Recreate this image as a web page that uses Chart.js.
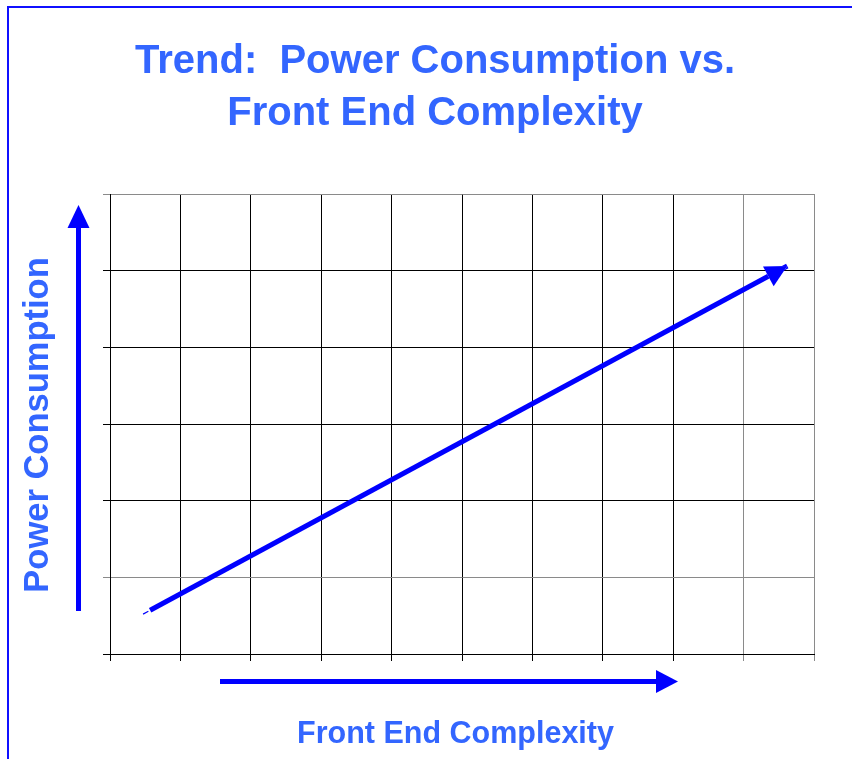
<!DOCTYPE html>
<html>
<head>
<meta charset="utf-8">
<script src="https://cdn.jsdelivr.net/npm/chart.js@4/dist/chart.umd.min.js"></script>
<style>
html,body{margin:0;padding:0;background:#fff;}
#wrap{width:852px;height:759px;position:relative;}
</style>
</head>
<body>
<div id="wrap"><canvas id="c" width="852" height="759"></canvas></div>
<script>
// ---- data ----
const titleLines = ['Trend:  Power Consumption vs.', 'Front End Complexity'];
const xAxisLabel = 'Front End Complexity';
const yAxisLabel = 'Power Consumption';
const xRange = [0, 10];
const yRange = [0, 6];
const trendX = [0.57, 9.62];
const trendY = [0.57, 5.06];

const BLUE = '#0000FF';
const TEXT_BLUE = '#3366FF';
const FONT = '"Liberation Sans", Arial, sans-serif';

function arrowGeom(chart) {
  const meta = chart.getDatasetMeta(0);
  const p0 = meta.data[meta.data.length - 2];
  const p1 = meta.data[meta.data.length - 1];
  const dx = p1.x - p0.x, dy = p1.y - p0.y;
  const len = Math.hypot(dx, dy);
  const ux = dx / len, uy = dy / len;
  const nx = -uy, ny = ux;
  const L = 21.5, W = 11.2;
  const bx = p1.x - ux * L, by = p1.y - uy * L;
  return { ux: ux, uy: uy, start: [p0.x, p0.y], tri: [[p1.x, p1.y], [bx + nx * W, by + ny * W], [bx - nx * W, by - ny * W]] };
}

const deco = {
  id: 'deco',
  beforeDraw(chart) {
    const ctx = chart.ctx;
    ctx.save();
    ctx.fillStyle = '#fff';
    ctx.fillRect(0, 0, chart.width, chart.height);
    ctx.strokeStyle = '#1010ff';
    ctx.lineWidth = 2;
    ctx.beginPath();
    ctx.moveTo(8, chart.height);
    ctx.lineTo(8, 7);
    ctx.lineTo(chart.width, 7);
    ctx.stroke();
    ctx.restore();
  },
  beforeDatasetsDraw(chart) {
    const ctx = chart.ctx;
    const t = arrowGeom(chart).tri;
    ctx.save();
    ctx.beginPath();
    ctx.rect(0, 0, chart.width, chart.height);
    ctx.moveTo(t[0][0], t[0][1]);
    ctx.lineTo(t[1][0], t[1][1]);
    ctx.lineTo(t[2][0], t[2][1]);
    ctx.closePath();
    ctx.clip('evenodd');
  },
  afterDatasetsDraw(chart) {
    const ctx = chart.ctx;
    ctx.restore();
    const g = arrowGeom(chart);
    const t = g.tri;
    ctx.save();
    ctx.fillStyle = BLUE;
    ctx.beginPath();
    ctx.moveTo(t[0][0], t[0][1]);
    ctx.lineTo(t[1][0], t[1][1]);
    ctx.lineTo(t[2][0], t[2][1]);
    ctx.closePath();
    ctx.fill();
    // thin tail at the arrow's start
    ctx.strokeStyle = BLUE;
    ctx.lineWidth = 1.2;
    ctx.beginPath();
    ctx.moveTo(g.start[0] - 2 * g.ux, g.start[1] - 2 * g.uy);
    ctx.lineTo(g.start[0] - 8 * g.ux, g.start[1] - 8 * g.uy);
    ctx.stroke();
    ctx.restore();
  },
  afterDraw(chart) {
    const ctx = chart.ctx;
    const a = chart.chartArea;
    ctx.save();
    // vertical axis arrow
    const vx = a.left - 31.5;
    ctx.fillStyle = BLUE;
    ctx.fillRect(vx - 2.5, a.top + 33, 5, a.bottom - 43 - (a.top + 33));
    ctx.beginPath();
    ctx.moveTo(vx, a.top + 11);
    ctx.lineTo(vx - 11, a.top + 34);
    ctx.lineTo(vx + 11, a.top + 34);
    ctx.closePath();
    ctx.fill();
    // horizontal axis arrow
    const hy = a.bottom + 27.5;
    ctx.fillRect(a.left + 110, hy - 2.5, 548 - 110, 5);
    ctx.beginPath();
    ctx.moveTo(a.left + 568, hy);
    ctx.lineTo(a.left + 546, hy - 11.5);
    ctx.lineTo(a.left + 546, hy + 11.5);
    ctx.closePath();
    ctx.fill();
    // axis labels
    ctx.fillStyle = TEXT_BLUE;
    ctx.font = 'bold 30.5px ' + FONT;
    ctx.textAlign = 'center';
    ctx.textBaseline = 'alphabetic';
    ctx.fillText(xAxisLabel, 455.5, 743);
    ctx.translate(48, 425);
    ctx.rotate(-Math.PI / 2);
    ctx.font = 'bold 34.5px ' + FONT;
    ctx.fillText(yAxisLabel, 0, 0);
    ctx.restore();
  }
};

const GRAY = '#8a8a8a';
new Chart(document.getElementById('c'), {
  type: 'scatter',
  data: {
    datasets: [{
      data: trendX.map((x, i) => ({ x: x, y: trendY[i] })),
      showLine: true,
      borderColor: BLUE,
      backgroundColor: BLUE,
      borderWidth: 5,
      borderCapStyle: 'butt',
      pointRadius: 0,
      pointHoverRadius: 0,
      tension: 0
    }]
  },
  options: {
    responsive: false,
    animation: false,
    events: [],
    layout: { padding: { left: 56, right: 38, top: 0, bottom: 0 } },
    plugins: {
      legend: { display: false },
      tooltip: { enabled: false },
      title: {
        display: true,
        text: titleLines,
        color: TEXT_BLUE,
        font: { family: FONT, size: 40, weight: 'bold', lineHeight: 1.3 },
        padding: { top: 36, bottom: 54 }
      }
    },
    scales: {
      x: {
        type: 'linear',
        min: xRange[0], max: xRange[1],
        ticks: { display: false, stepSize: 1 },
        grid: {
          color: c => (c.tick && c.tick.value >= 9 ? GRAY : '#000'),
          lineWidth: 1,
          tickLength: 7,
          drawTicks: true
        },
        border: { color: '#000', width: 1 },
        afterFit(s) { s.height = 105; }
      },
      y: {
        type: 'linear',
        min: yRange[0], max: yRange[1],
        ticks: { display: false, stepSize: 1 },
        grid: {
          color: c => (c.tick && (c.tick.value === 6 || c.tick.value === 1) ? GRAY : '#000'),
          lineWidth: 1,
          tickLength: 7,
          drawTicks: true
        },
        border: { color: '#000', width: 1 },
        afterFit(s) { s.width = 54; }
      }
    }
  },
  plugins: [deco]
});
</script>
</body>
</html>
